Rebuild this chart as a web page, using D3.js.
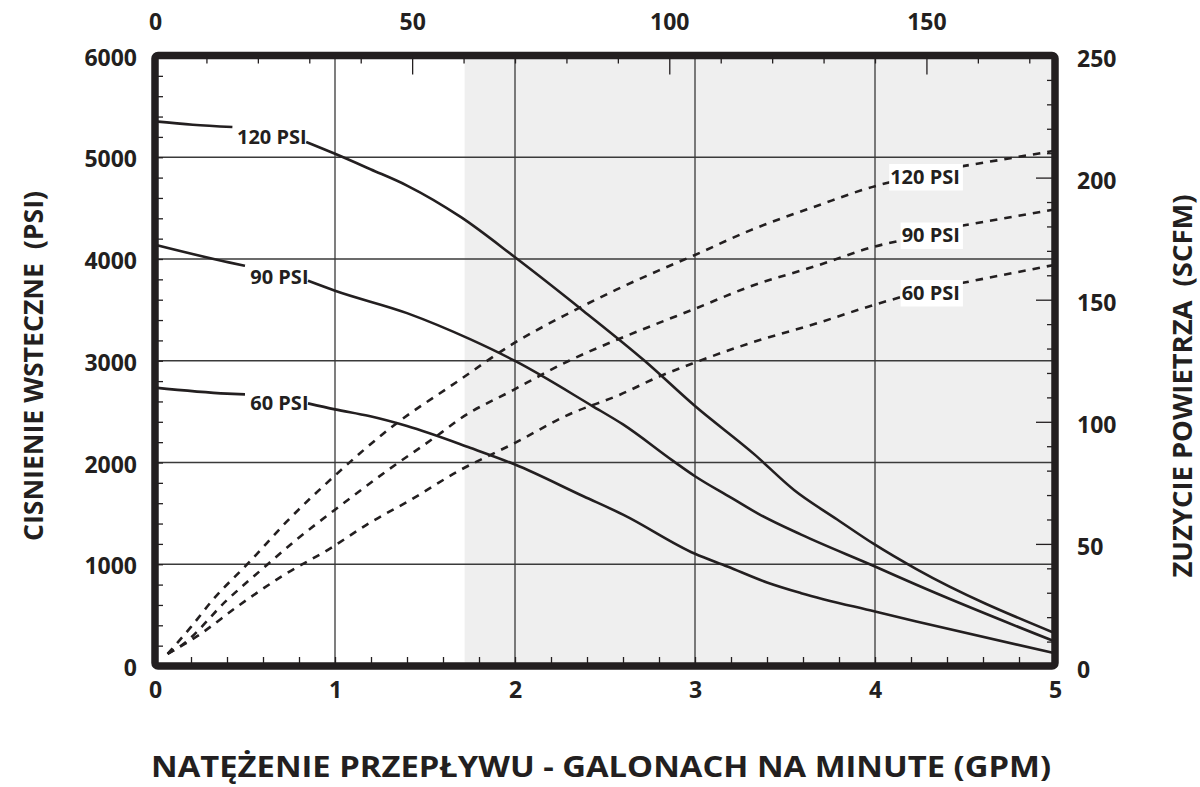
<!DOCTYPE html>
<html>
<head>
<meta charset="utf-8">
<script src="https://cdn.jsdelivr.net/npm/d3@7/dist/d3.min.js"></script>
<style>
  html, body { margin: 0; padding: 0; background: #fff; }
  svg { display: block; }
  text { font-family: "Open Sans", "Noto Sans", sans-serif; font-weight: 700; fill: #231f20; }
</style>
</head>
<body>
<svg id="chart" width="1200" height="787"></svg>
<script>
// ---- data -------------------------------------------------------------
// flow rate (GPM) axis
const gpmTicks = [0, 1, 2, 3, 4, 5];
// back pressure (PSI) axis
const psiTicks = [0, 1000, 2000, 3000, 4000, 5000, 6000];
// air consumption (SCFM) axis, right
const scfmTicks = [0, 50, 100, 150, 200, 250];
// air consumption, top scale
const topTicks = [0, 50, 100, 150];

// back pressure vs flow rate  [GPM, PSI]
const pressure120 = [[0,5353],[0.21,5320],[0.43,5297],[0.84,5150],[1.0,5034],[1.2,4880],[1.4,4722],[1.7,4411],[2.0,4017],[2.38,3490],[2.72,3000],[3.0,2555],[3.33,2080],[3.55,1730],[3.79,1440],[4.0,1192],[4.23,952],[5.0,322]];
const pressure90 = [[0,4140],[0.41,3967],[0.5,3934],[0.85,3786],[1.0,3688],[1.4,3468],[1.75,3212],[2.0,2998],[2.43,2555],[2.6,2374],[2.88,2013],[3.0,1865],[3.2,1655],[3.36,1488],[3.59,1291],[4.0,978],[4.23,798],[5.0,240]];
const pressure60 = [[0,2736],[0.40,2677],[0.5,2670],[0.85,2581],[1.0,2522],[1.19,2456],[1.4,2358],[1.75,2145],[2.0,1980],[2.38,1668],[2.6,1488],[3.0,1103],[3.18,978],[3.40,821],[3.59,716],[4.0,535],[4.23,437],[5.0,125]];

// air consumption vs flow rate  [GPM, SCFM]
const air120 = [[0.07,5],[0.2,16],[0.32,27],[0.53,43],[0.73,59],[1.0,78],[1.3,97],[1.69,117],[1.99,132],[2.3,144.5],[2.56,154],[2.8,162],[2.99,168],[3.31,178.5],[3.68,188.5],[4.0,196.5],[4.1,198.4],[4.48,204.6],[5.0,211]];
const air90 = [[0.07,5],[0.15,8.6],[0.4,27],[0.6,40],[0.79,52],[1.0,64],[1.29,80],[1.58,95],[1.69,101],[1.99,113],[2.3,125],[2.58,134],[2.8,140.5],[2.99,146],[3.31,155.5],[3.68,164],[4.0,171.8],[4.14,174.2],[4.48,180.3],[5.0,187]];
const air60 = [[0.07,5],[0.23,12],[0.47,25],[0.71,37],[0.97,48],[1.19,58.5],[1.42,68],[1.69,80],[1.99,91],[2.3,103],[2.58,111],[2.8,118.5],[2.99,124],[3.31,132.3],[3.68,140.4],[4.0,148],[4.14,151],[4.48,156.8],[5.0,164.3]];

const seriesNames = ["120 PSI", "90 PSI", "60 PSI"];
// flow range where each curve is interrupted by its label
const pressureGaps = [[0.43, 0.84], [0.5, 0.85], [0.5, 0.85]];
const airGaps = [[4.1, 4.48], [4.14, 4.48], [4.14, 4.48]];
// start of the shaded flow band
const shadeFrom = 1.72;

// ---- layout -----------------------------------------------------------
const ink = "#231f20";
const L = 155, R = 1055, T = 55.5, B = 666;
const svg = d3.select("#chart");

const x = d3.scaleLinear().domain([0, 5]).range([L, R]);
const yP = d3.scaleLinear().domain([0, 6000]).range([B, T]);
const yA = d3.scaleLinear().domain([0, 250]).range([B, T]);
const xTop = d3.scaleLinear().domain([0, 175]).range([L, R]);

// shaded band
svg.append("rect")
  .attr("x", x(shadeFrom)).attr("y", T)
  .attr("width", R - x(shadeFrom)).attr("height", B - T)
  .attr("fill", "#efefef");

// grid
const grid = svg.append("g").attr("stroke", "#3a3a3a").attr("stroke-width", 1.3);
grid.selectAll("line.v").data(gpmTicks.slice(1, -1)).join("line")
  .attr("x1", d => x(d)).attr("x2", d => x(d)).attr("y1", T).attr("y2", B);
grid.selectAll("line.h").data(psiTicks.slice(1, -1)).join("line")
  .attr("x1", L).attr("x2", R).attr("y1", d => yP(d)).attr("y2", d => yP(d));

// inward tick marks
function tickMarks(g) {
  g.select(".domain").remove();
  g.selectAll(".tick line").attr("stroke", ink).attr("stroke-width", 1.3);
  g.selectAll(".tick text").remove();
}
svg.append("g").attr("transform", `translate(0,${B})`)
  .call(d3.axisBottom(x).tickValues(d3.range(1, 25).map(i => i / 5)).tickSize(-9)).call(tickMarks);
svg.append("g").attr("transform", `translate(${L},0)`)
  .call(d3.axisLeft(yP).tickValues(d3.range(1, 30).map(i => i * 200)).tickSize(-8)).call(tickMarks);
svg.append("g").attr("transform", `translate(0,${T})`)
  .call(d3.axisTop(xTop).tickValues(d3.range(1, 18).map(i => i * 10).filter(v => v % 50)).tickSize(-8)).call(tickMarks);
svg.append("g").attr("transform", `translate(0,${T})`)
  .call(d3.axisTop(xTop).tickValues(topTicks.slice(1)).tickSize(-19)).call(tickMarks);
svg.append("g").attr("transform", `translate(${R},0)`)
  .call(d3.axisRight(yA).tickValues(d3.range(1, 25).map(i => i * 10).filter(v => v % 50)).tickSize(-8)).call(tickMarks);
svg.append("g").attr("transform", `translate(${R},0)`)
  .call(d3.axisRight(yA).tickValues(scfmTicks.slice(1, -1)).tickSize(-19)).call(tickMarks);

// curves, split around their labels
function splitAt(points, gap) {
  return [points.filter(p => p[0] <= gap[0]), points.filter(p => p[0] >= gap[1])];
}
const pressureLine = d3.line().x(d => x(d[0])).y(d => yP(d[1])).curve(d3.curveMonotoneX);
const airLine = d3.line().x(d => x(d[0])).y(d => yA(d[1])).curve(d3.curveMonotoneX);

const curves = svg.append("g").attr("fill", "none").attr("stroke", ink);
[pressure120, pressure90, pressure60].forEach((pts, i) => {
  splitAt(pts, pressureGaps[i]).forEach(seg => {
    curves.append("path").attr("d", pressureLine(seg)).attr("stroke-width", 2.6);
  });
});
[air120, air90, air60].forEach((pts, i) => {
  splitAt(pts, airGaps[i]).forEach(seg => {
    curves.append("path").attr("d", airLine(seg))
      .attr("stroke-width", 2.6).attr("stroke-dasharray", "7.5,7");
  });
});

// curve labels
const pressureBaselines = [143.5, 283.5, 409.5];
const airBaselines = [183.5, 242, 299.5];
const labels = svg.append("g").attr("font-size", 20);
seriesNames.forEach((name, i) => {
  labels.append("text").attr("x", x(pressureGaps[i][1]) + 0.5).attr("y", pressureBaselines[i])
    .attr("text-anchor", "end").text(name);
});
seriesNames.forEach((name, i) => {
  const t = labels.append("text").attr("x", x(airGaps[i][1]) - 1.5).attr("y", airBaselines[i])
    .attr("text-anchor", "end").text(name);
  const bb = t.node().getBBox();
  labels.insert("rect", "text")
    .attr("x", bb.x - 1).attr("y", airBaselines[i] - 19.5)
    .attr("width", bb.width + 4).attr("height", 26.5).attr("fill", "#fff");
});

// frame
svg.append("rect").attr("x", L).attr("y", T).attr("width", R - L).attr("height", B - T)
  .attr("rx", 3).attr("fill", "none").attr("stroke", ink).attr("stroke-width", 7.5);

// tick labels
function tickLabels(g) {
  g.select(".domain").remove();
  g.selectAll(".tick line").remove();
  g.attr("font-size", 23).attr("font-family", null);
  g.selectAll(".tick text").attr("fill", ink);
}
svg.append("g").attr("transform", `translate(0,${B})`)
  .call(d3.axisBottom(x).tickValues(gpmTicks).tickSize(0).tickPadding(16).tickFormat(d3.format("d")))
  .call(tickLabels);
svg.append("g").attr("transform", `translate(${L},0)`)
  .call(d3.axisLeft(yP).tickValues(psiTicks).tickSize(0).tickPadding(18).tickFormat(d3.format("d")))
  .call(tickLabels)
  .selectAll(".tick text").attr("dy", "0.42em");
svg.append("g").attr("transform", `translate(${R},0)`)
  .call(d3.axisRight(yA).tickValues(scfmTicks).tickSize(0).tickPadding(22).tickFormat(d3.format("d")))
  .call(tickLabels)
  .selectAll(".tick text").attr("dy", "0.48em");
svg.append("g").attr("transform", `translate(0,${T})`)
  .call(d3.axisTop(xTop).tickValues(topTicks).tickSize(0).tickPadding(26).tickFormat(d3.format("d")))
  .call(tickLabels);

// axis titles
svg.append("text").attr("x", 601).attr("y", 777).attr("text-anchor", "middle")
  .attr("font-size", 28).attr("textLength", 900).attr("lengthAdjust", "spacingAndGlyphs")
  .text("NATĘŻENIE PRZEPŁYWU - GALONACH NA MINUTE (GPM)");
svg.append("text").attr("transform", "translate(43,366) rotate(-90)").attr("text-anchor", "middle")
  .attr("font-size", 27).attr("textLength", 350).attr("lengthAdjust", "spacingAndGlyphs")
  .style("white-space", "pre")
  .text("CISNIENIE WSTECZNE  (PSI)");
svg.append("text").attr("transform", "translate(1192,386) rotate(-90)").attr("text-anchor", "middle")
  .attr("font-size", 27).attr("textLength", 383).attr("lengthAdjust", "spacingAndGlyphs")
  .style("white-space", "pre")
  .text("ZUZYCIE POWIETRZA  (SCFM)");
</script>
</body>
</html>
